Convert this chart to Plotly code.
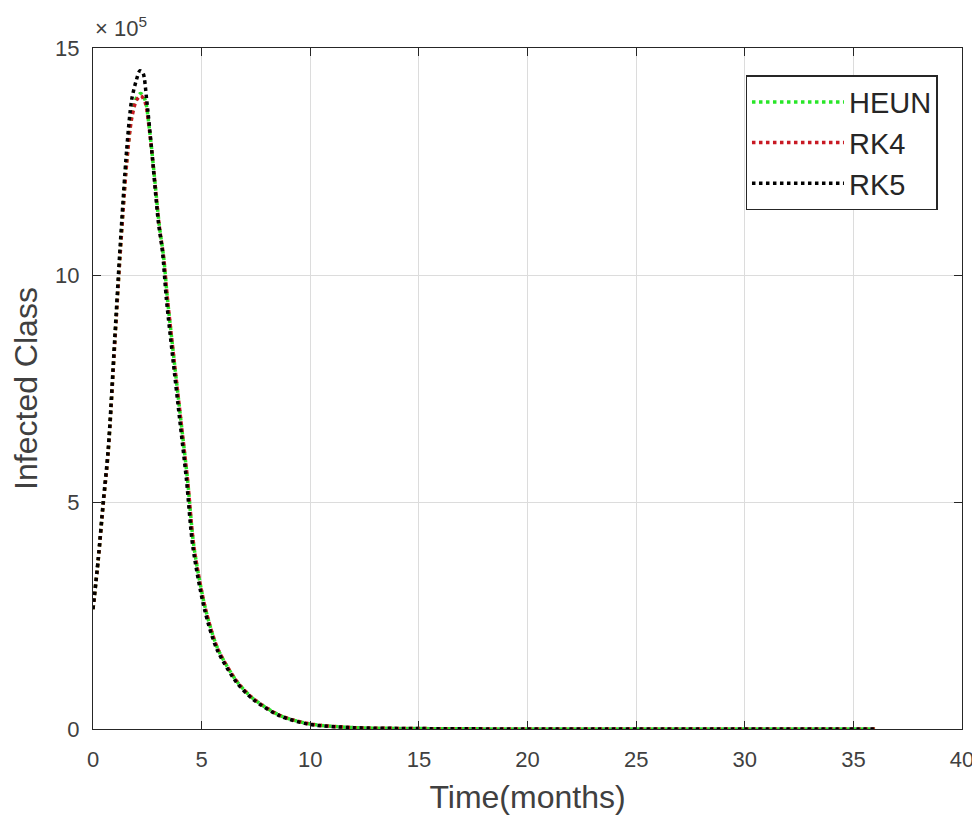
import plotly.graph_objects as go

# Time (months) and infected class values
t_rk5 = [0, 0.24, 0.47, 0.7, 1.0, 1.24, 1.55, 1.78, 2.0, 2.16, 2.3, 2.47, 2.7, 3.0, 3.2, 3.38, 3.68, 3.99,
         4.3, 4.6, 5.13, 5.7, 6.6, 7.35, 8.6, 10, 12, 15, 20, 25, 30, 36]
y_rk5 = [264000, 374000, 500000, 616000, 860000, 1056000, 1276000, 1386000, 1430000, 1450000, 1445000,
         1386000, 1276000, 1120000, 1050000, 946000, 814000, 682000,
         550000, 400000, 264000, 176000, 103000, 66000, 29000, 10000, 3000, 1000, 0, 0, 0, 0]

t_heun = [0, 0.24, 0.47, 0.7, 1.0, 1.24, 1.55, 1.78, 2.0, 2.2, 2.4, 2.6, 2.8, 3.05, 3.25, 3.43, 3.73, 4.04,
          4.35, 4.65, 5.18, 5.75, 6.65, 7.4, 8.65, 10, 12, 15, 20, 25, 30, 36]
y_heun = [264000, 372000, 495000, 610000, 850000, 1040000, 1250000, 1350000, 1390000, 1400000, 1385000,
          1320000, 1230000, 1110000, 1040000, 946000, 814000, 682000,
          550000, 400000, 264000, 176000, 103000, 66000, 29000, 11000, 3000, 1000, 0, 0, 0, 0]

t_rk4 = t_heun
y_rk4 = [264000, 372000, 495000, 610000, 848000, 1038000, 1246000, 1345000, 1385000, 1395000, 1380000,
         1318000, 1228000, 1108000, 1040000, 946000, 814000, 682000,
         550000, 400000, 264000, 176000, 103000, 66000, 29000, 11000, 3000, 1000, 0, 0, 0, 0]

series_names = ["HEUN", "RK4", "RK5"]
series_colors = ["rgb(40,230,40)", "rgb(200,25,35)", "rgb(0,0,0)"]

x_ticks = [0, 5, 10, 15, 20, 25, 30, 35, 40]
y_ticks = [0, 500000, 1000000, 1500000]
y_tick_text = ["0", "5", "10", "15"]

FONT = "Liberation Sans, Arial, Helvetica"

fig = go.Figure()
for name, tx, ty, col in zip(series_names, [t_heun, t_rk4, t_rk5], [y_heun, y_rk4, y_rk5], series_colors):
    fig.add_trace(go.Scatter(x=tx, y=ty, name=name, mode="lines",
                             line=dict(color=col, width=3.5, dash="dot", shape="spline", smoothing=0.8)))

axis_common = dict(showline=True, linecolor="#262626", linewidth=1.3, mirror="ticks",
                   ticks="inside", ticklen=8, tickcolor="#262626", automargin=False,
                   ticklabeloverflow="allow",
                   showgrid=True, gridcolor="#dcdcdc", gridwidth=1, zeroline=False,
                   tickfont=dict(family=FONT, size=22, color="#404040"))

# page body has an 8px margin, so the figure is sized/offset to compensate
fig.update_layout(
    width=972, height=807,
    margin=dict(l=85, r=18, t=40, b=86),
    paper_bgcolor="white", plot_bgcolor="white",
    font=dict(family=FONT, color="#262626"),
    xaxis=dict(range=[0, 40], tickvals=x_ticks, ticklabelstandoff=10, **axis_common,
               title=dict(text="Time(months)", font=dict(family=FONT, size=32, color="#404040"), standoff=18)),
    yaxis=dict(range=[0, 1500000], tickvals=y_ticks, ticktext=y_tick_text, ticklabelstandoff=8, **axis_common,
               title=dict(text="Infected Class", font=dict(family=FONT, size=32, color="#404040"), standoff=10)),
    legend=dict(x=0.972, y=0.96, xanchor="right", yanchor="top",
                bgcolor="white", bordercolor="#262626", borderwidth=1.3,
                font=dict(family=FONT, size=29, color="#262626"), itemwidth=92),
    showlegend=True,
    annotations=[dict(text="× 10<sup>5</sup>", x=0, y=1, xref="paper", yref="paper",
                      xanchor="left", yanchor="bottom", yshift=5, showarrow=False,
                      font=dict(family=FONT, size=22, color="#404040"))],
)

fig.write_html("out.html")
